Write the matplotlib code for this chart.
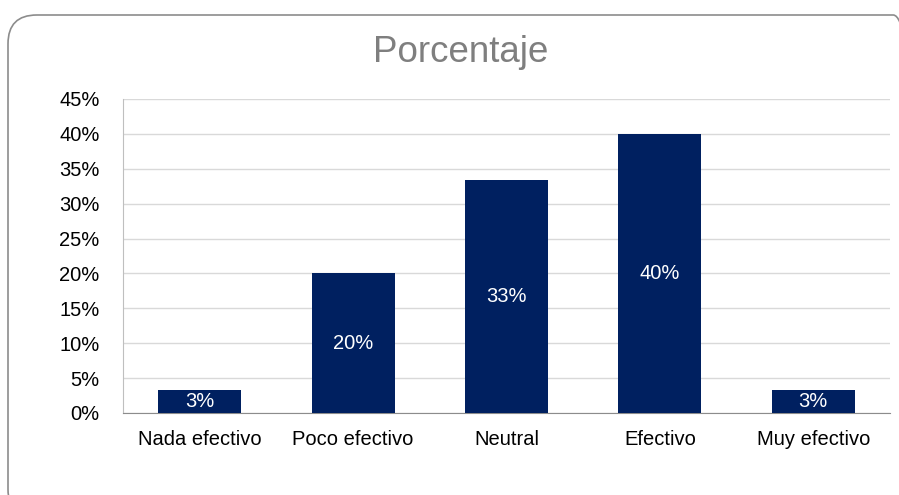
import matplotlib
matplotlib.use('Agg')
import matplotlib.pyplot as plt
from matplotlib.patches import FancyBboxPatch

categories = ['Nada efectivo', 'Poco efectivo', 'Neutral', 'Efectivo', 'Muy efectivo']
values = [3.33, 20.0, 33.33, 40.0, 3.33]
labels = ['3%', '20%', '33%', '40%', '3%']
yticks = [0, 5, 10, 15, 20, 25, 30, 35, 40, 45]

plt.rcParams['font.family'] = ['Liberation Sans', 'DejaVu Sans']

W, H = 899, 495
fig = plt.figure(figsize=(W / 100, H / 100), dpi=100)

# rounded chart-area frame, partly running off the canvas
frame = FancyBboxPatch((8 / W, (H - 518) / H), (922 - 8) / W, (518 - 15) / H,
                       boxstyle='round,pad=0,rounding_size=0.032',
                       transform=fig.transFigure, fc='none', ec='#8c8c8c', lw=1.2,
                       mutation_aspect=W / H)
fig.patches.append(frame)

ax = fig.add_axes([123 / W, (H - 413) / H, (890 - 123) / W, (413 - 99) / H])
x = range(len(categories))
bars = ax.bar(x, values, width=0.54, color='#002060', zorder=3)
for b, v, t in zip(bars, values, labels):
    ax.text(b.get_x() + b.get_width() / 2, v / 2, t, ha='center', va='center',
            color='white', fontsize=14.5, zorder=4)

ax.set_xlim(-0.5, len(categories) - 0.5)
ax.set_ylim(0, 45)
ax.set_yticks(yticks)
ax.set_yticklabels([f'{t}%' for t in yticks], fontsize=14.5)
ax.set_xticks(list(x))
ax.set_xticklabels(categories, fontsize=14.5)
ax.tick_params(axis='y', length=0, pad=17)
ax.tick_params(axis='x', length=0, pad=12)
ax.grid(axis='y', color='#d9d9d9', lw=1, zorder=0)
for s in ['top', 'right']:
    ax.spines[s].set_visible(False)
ax.spines['left'].set_color('#bfbfbf')
ax.spines['bottom'].set_color('#8c8c8c')

fig.text(461 / W, 1 - 52 / H, 'Porcentaje', ha='center', va='center',
         fontsize=26.5, color='#7f7f7f')

fig.savefig('out.png', dpi=100)
